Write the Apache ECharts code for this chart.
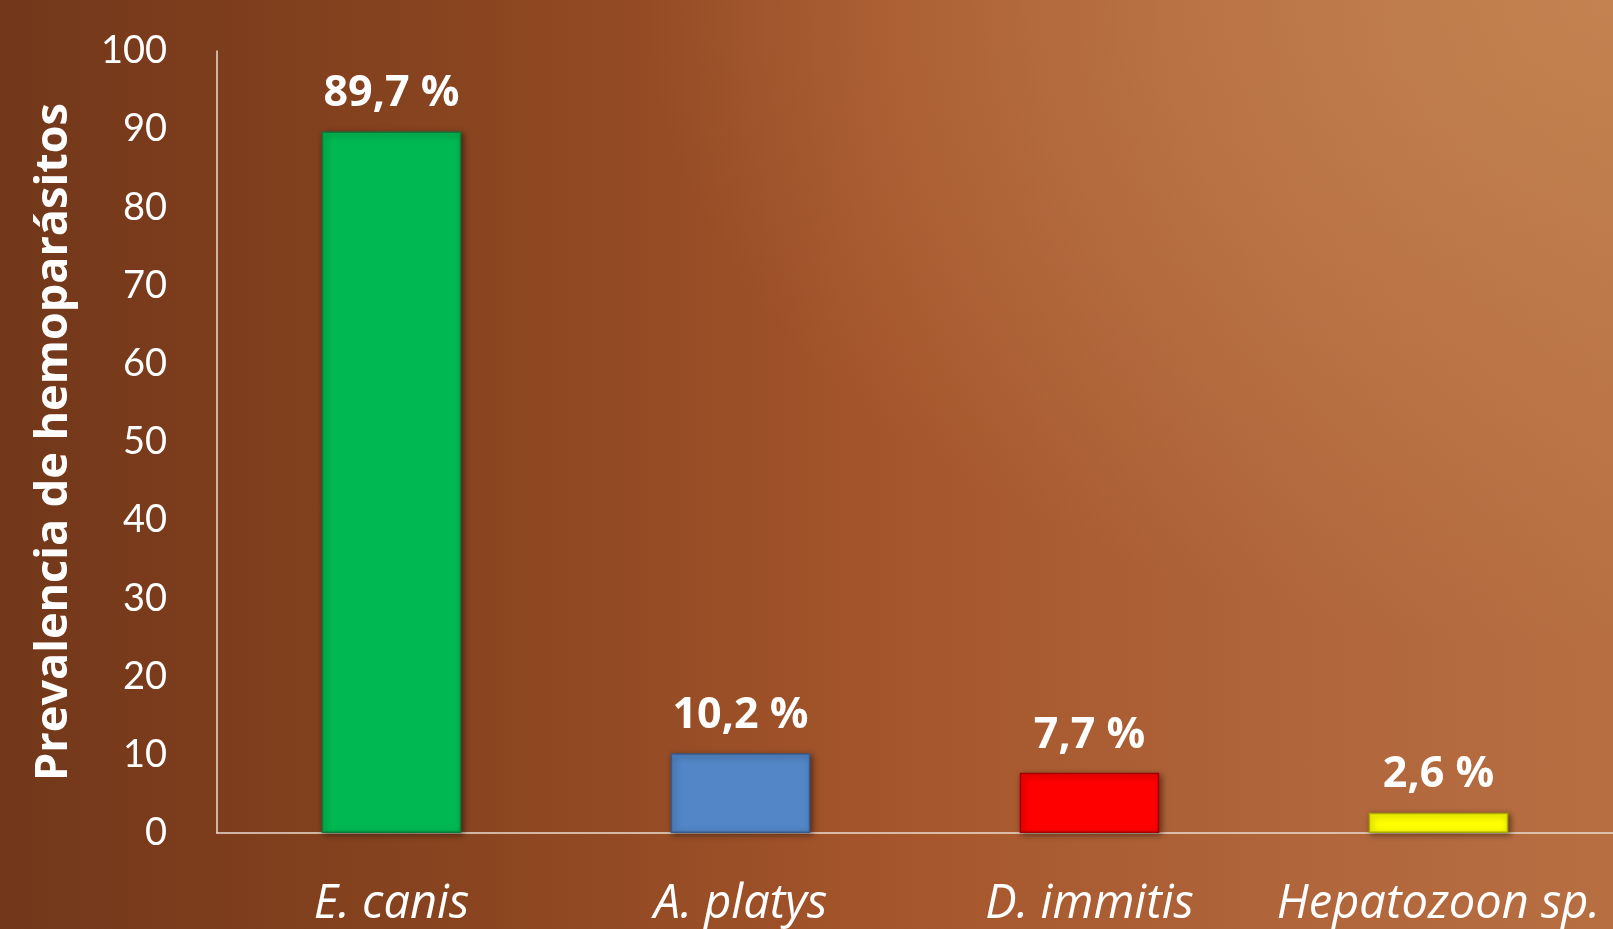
<!DOCTYPE html>
<html>
<head>
<meta charset="utf-8">
<script src="https://cdn.jsdelivr.net/npm/echarts@6/dist/echarts.min.js"></script>
<style>
html, body { margin: 0; padding: 0; width: 100%; height: 100%; overflow: hidden; }
body {
  background:
    radial-gradient(ellipse 60% 70% at 100% 0%, rgba(196,132,82,0.9) 0%, rgba(196,132,82,0) 100%),
    linear-gradient(to right, #72371a 0%, #8a4520 30%, #a5552b 55%, #b0653a 80%, #b76f42 100%);
}
#chart { width: 1613px; height: 929px; }
</style>
</head>
<body>
<div id="chart"></div>
<script>
// datos del gráfico
const categorias = ['E. canis', 'A. platys', 'D. immitis', 'Hepatozoon sp.'];
const valores = [89.7, 10.2, 7.7, 2.6];
const colores = ['#00b852', '#5286c6', '#ff0000', '#ffff00'];
const bordes = ['#0a7a3a', '#36598a', '#a00000', '#a8a800'];
const yTicks = [0, 10, 20, 30, 40, 50, 60, 70, 80, 90, 100];

const chart = echarts.init(document.getElementById('chart'), null, { renderer: 'canvas' });

const option = {
  backgroundColor: 'transparent',
  animation: false,
  grid: { left: 217, right: 0, top: 51, bottom: 96 },
  xAxis: {
    type: 'category',
    data: categorias,
    axisLine: { lineStyle: { color: '#eadcd0', width: 1.5 } },
    axisTick: { show: false },
    axisLabel: {
      interval: 0,
      hideOverlap: false,
      color: '#ffffff',
      fontFamily: 'Open Sans',
      fontStyle: 'italic',
      fontSize: 47,
      margin: 48
    }
  },
  yAxis: {
    type: 'value',
    min: yTicks[0],
    max: yTicks[yTicks.length - 1],
    interval: 10,
    name: 'Prevalencia de hemoparásitos',
    nameLocation: 'middle',
    nameGap: 140,
    nameRotate: 90,
    nameTextStyle: {
      color: '#ffffff',
      fontFamily: 'Open Sans',
      fontWeight: 'bold',
      fontSize: 45
    },
    axisLine: { show: true, lineStyle: { color: '#eadcd0', width: 1.5 } },
    axisTick: { show: false },
    splitLine: { show: false },
    axisLabel: {
      color: '#ffffff',
      fontFamily: 'Lato',
      fontSize: 38,
      margin: 50
    }
  },
  series: [{
    type: 'bar',
    barWidth: '40%',
    data: valores.map((v, i) => ({
      value: v,
      itemStyle: {
        color: colores[i],
        borderColor: bordes[i],
        borderWidth: 1.5,
        shadowColor: 'rgba(0,0,0,0.45)',
        shadowBlur: 6,
        shadowOffsetX: 2,
        shadowOffsetY: 2
      }
    })),
    label: {
      show: true,
      position: 'top',
      distance: 16,
      color: '#ffffff',
      fontFamily: 'Open Sans',
      fontWeight: 'bold',
      fontSize: 43,
      formatter: p => String(p.value).replace('.', ',') + ' %'
    }
  }]
};

chart.setOption(option);
</script>
</body>
</html>
